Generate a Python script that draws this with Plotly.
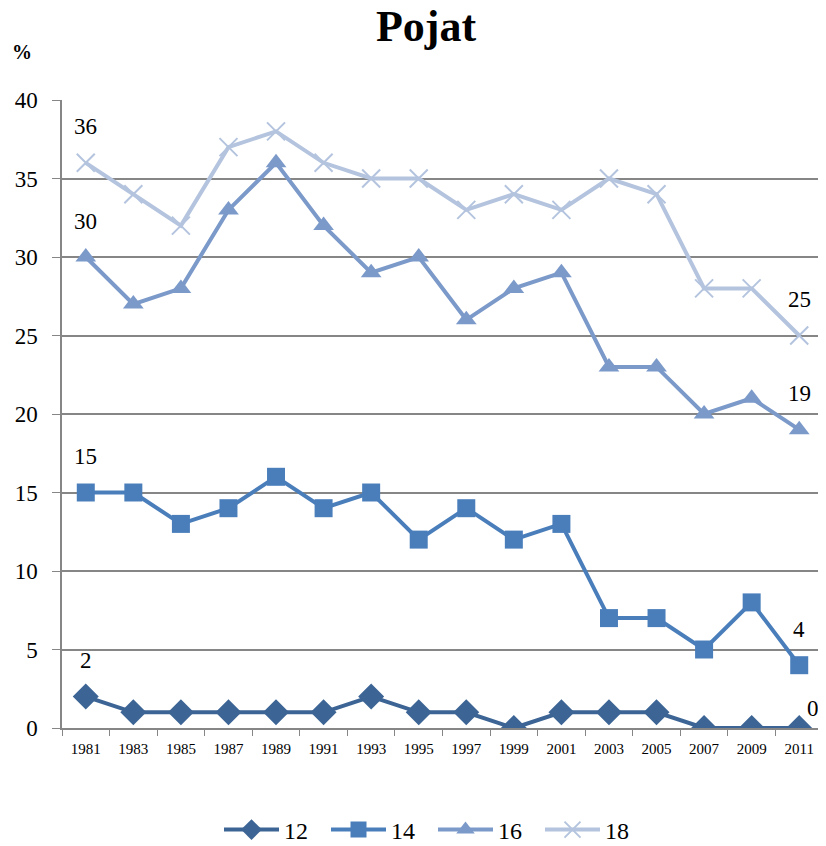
import plotly.graph_objects as go

years = ["1981","1983","1985","1987","1989","1991","1993","1995","1997","1999","2001","2003","2005","2007","2009","2011"]
s12 = [2,1,1,1,1,1,2,1,1,0,1,1,1,0,0,0]
s14 = [15,15,13,14,16,14,15,12,14,12,13,7,7,5,8,4]
s16 = [30,27,28,33,36,32,29,30,26,28,29,23,23,20,21,19]
s18 = [36,34,32,37,38,36,35,35,33,34,33,35,34,28,28,25]
names = ["12","14","16","18"]
colors = ["#3C6494","#4A7EBB","#7B99C9","#B4C4DE"]
symbols = ["diamond","square","triangle-up","x-thin"]
sizes = [20, 18, 18, 18]

FONT = "Liberation Serif, Times New Roman, serif"
OFF = 8  # page body margin
W, H = 826 - OFF, 846 - OFF

fig = go.Figure()
series = [s12, s14, s16, s18]
for name, vals, col, sym, sz in zip(names, series, colors, symbols, sizes):
    mk = dict(symbol=sym, size=sz, color=col)
    if sym == "x-thin":
        mk["line"] = dict(color=col, width=2)
    fig.add_trace(go.Scatter(x=years, y=vals, name=name, mode="lines+markers",
                             line=dict(color=col, width=4), marker=mk))

# data labels at first and last points
last = len(years) - 1
for vals in series:
    for idx in (0, last):
        is_zero_end = (idx == last and vals[idx] == 0)
        fig.add_annotation(x=idx, y=vals[idx], xref="x", yref="y", text=str(vals[idx]),
                           showarrow=False,
                           xshift=14 if is_zero_end else 0,
                           yshift=20 if is_zero_end else 36,
                           font=dict(family=FONT, size=23, color="black"))

fig.add_annotation(xref="paper", yref="paper", x=(22 - 62) / 761, y=(728 - 52) / 628,
                   xanchor="center", yanchor="middle", text="<b>%</b>", showarrow=False,
                   font=dict(family=FONT, size=20, color="black"))

fig.update_layout(
    width=W, height=H,
    margin=dict(l=62 - OFF, r=3, t=100 - OFF, b=118),
    paper_bgcolor="white", plot_bgcolor="white",
    font=dict(family=FONT, color="black"),
    title=dict(text="<b>Pojat</b>", x=(426 - OFF) / W, xanchor="center",
               y=1 - (26 - OFF) / H, yanchor="middle",
               yref="container", font=dict(family=FONT, size=44, color="black")),
    showlegend=True,
    legend=dict(orientation="h", x=(433 - OFF) / W, xanchor="center", xref="container",
                y=1 - (830 - OFF) / H, yref="container", yanchor="middle",
                font=dict(family=FONT, size=24, color="black"), itemwidth=55,
                entrywidth=37, entrywidthmode="pixels",
                bgcolor="rgba(0,0,0,0)"),
)
fig.update_xaxes(type="category", tickson="boundaries", ticks="outside", ticklen=6,
                 tickcolor="#868686", showline=True, linecolor="#868686", linewidth=1.5,
                 showgrid=False, tickfont=dict(family=FONT, size=15, color="black"),
                 ticklabelstandoff=6, range=[-0.5, 15.5])
fig.update_yaxes(range=[0, 40], dtick=5, ticks="outside", ticklen=8, tickcolor="#868686",
                 showline=True, linecolor="#868686", linewidth=1.5, showgrid=True,
                 gridcolor="#868686", gridwidth=1.5, zeroline=False,
                 ticklabelstandoff=10,
                 tickfont=dict(family=FONT, size=23, color="black"))

fig.write_html("out.html")
